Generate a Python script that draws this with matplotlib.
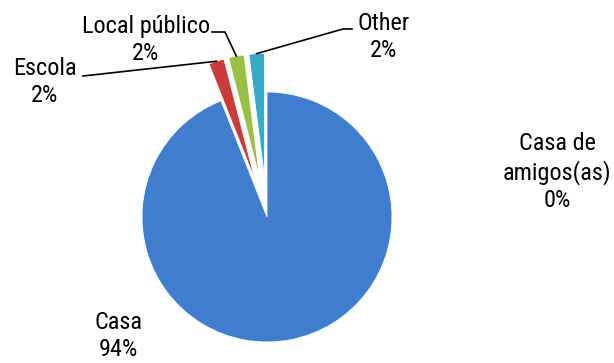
import numpy as np
import matplotlib
matplotlib.use("Agg")
import matplotlib.pyplot as plt

# data
labels = ["Casa", "Escola", "Local público", "Casa de\namigos(as)", "Other"]
values = [94, 2, 2, 0, 2]
colors = ["#3F7ECF", "#CC3B38", "#9AC043", "#8064A2", "#37A9C9"]
explode_frac = [0, 0.31, 0.31, 0.31, 0.31]

W, H = 614, 363
R = 125
plt.rcParams['font.family'] = ['Roboto Condensed', 'Liberation Sans', 'DejaVu Sans']

fig = plt.figure(figsize=(W / 100, H / 100), dpi=100)
ax = fig.add_axes([0, 0, 1, 1])


def py(y):
    # pixel row (from top) -> data y
    return H - y


# pie() takes explode in data units, so scale by radius
wedges, _ = ax.pie(values, colors=colors, explode=[e * R for e in explode_frac],
                   startangle=90, counterclock=False, center=(267, py(217)),
                   radius=R, wedgeprops=dict(edgecolor='white', linewidth=0.6))
ax.set_xlim(0, W)
ax.set_ylim(0, H)
ax.set_aspect('equal')
ax.axis('off')


def outer_point(w, frac=0.5):
    th = np.radians(w.theta1 + (w.theta2 - w.theta1) * frac)
    cx, cy = w.center
    return cx + w.r * np.cos(th), cy + w.r * np.sin(th)


fs = 17.5
ls = 1.22
pct = ["{}%".format(v) for v in values]

# label text
ax.text(118, py(336), labels[0] + "\n" + pct[0], ha='center', va='center',
        fontsize=fs, linespacing=ls)
ax.text(45, py(82), labels[1] + "\n" + pct[1], ha='center', va='center',
        fontsize=fs, linespacing=ls)
ax.text(146, py(40), labels[2] + "\n" + pct[2], ha='center', va='center',
        fontsize=fs, linespacing=ls)
ax.text(557, py(172), labels[3] + "\n" + pct[3], ha='center', va='center',
        fontsize=fs, linespacing=ls)
ax.text(384, py(37), labels[4] + "\n" + pct[4], ha='center', va='center',
        fontsize=fs, linespacing=ls)

# leader lines
x1, y1 = outer_point(wedges[1])
ax.plot([83, x1], [py(76), y1], color='black', lw=1.2)
x2, y2 = outer_point(wedges[2])
ax.plot([212, 225, x2], [py(32), py(32), y2], color='black', lw=1.2)
x4, y4 = outer_point(wedges[4])
ax.plot([352, 343, x4], [py(29), py(29), y4], color='black', lw=1.2)

fig.savefig("out.png", dpi=100)
